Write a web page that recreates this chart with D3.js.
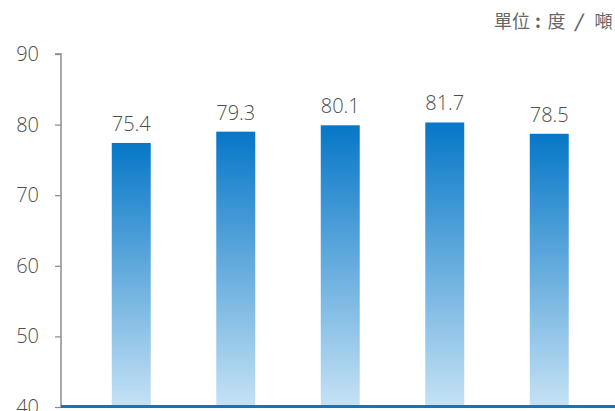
<!DOCTYPE html>
<html>
<head>
<meta charset="utf-8">
<script src="https://cdn.jsdelivr.net/npm/d3@7"></script>
<style>
    body { margin: 0; background: #fff; }
    svg { display: block; font-family: "Open Sans", "Noto Sans", sans-serif; }
</style>
</head>
<body>
<div class="svgContainer"></div>
<script>
// Statics
var CATEGORIES = ["A", "B", "C", "D", "E"];
// Bar heights as drawn in the picture
var BAR_VALUES = [77.4, 79.0, 79.9, 80.3, 78.7];
// Value labels printed above the bars
var LABELS = ["75.4", "79.3", "80.1", "81.7", "78.5"];
var Y_TICKS = [40, 50, 60, 70, 80, 90];
var UNIT_PARTS = ["單位", ":", "度", "/", "噸"];
// End statics

var width = 615, height = 411;

var svg = d3.select(".svgContainer").append("svg")
    .attr("width", width)
    .attr("height", height);

var scaleY = d3.scaleLinear()
    .domain([40, 90])
    .range([407, 54]);

var scaleX = d3.scaleBand()
    .domain(CATEGORIES)
    .range([79, 601.5])
    .paddingInner(0.627)
    .paddingOuter(0.3135);

// Gradient for the bars
var grad = svg.append("defs").append("linearGradient")
    .attr("id", "barGrad")
    .attr("x1", 0).attr("y1", 0)
    .attr("x2", 0).attr("y2", 1);
grad.append("stop").attr("offset", "0%").attr("stop-color", "#0677c7");
grad.append("stop").attr("offset", "100%").attr("stop-color", "#c6e2f5");

// Y axis
var axisY = d3.axisLeft(scaleY)
    .tickValues(Y_TICKS)
    .tickSize(6)
    .tickPadding(16);

var gY = svg.append("g")
    .attr("transform", "translate(61,0)")
    .call(axisY);
gY.select(".domain")
    .attr("stroke", "#aaa")
    .attr("stroke-width", 2)
    .attr("d", "M-6," + scaleY(90) + "H0V" + scaleY(40));
gY.selectAll(".tick line").attr("stroke", "#888").attr("stroke-width", 1.2);
gY.selectAll(".tick text")
    .attr("fill", "#4d4d4d")
    .style("font-family", "'Open Sans', sans-serif")
    .style("font-weight", 300)
    .style("font-size", "20px");

// Bars
svg.selectAll("rect.bar")
    .data(BAR_VALUES)
    .enter().append("rect")
    .attr("class", "bar")
    .attr("x", function(d, i) { return scaleX(CATEGORIES[i]); })
    .attr("y", function(d) { return scaleY(d); })
    .attr("width", scaleX.bandwidth())
    .attr("height", function(d) { return scaleY(40) - scaleY(d); })
    .attr("fill", "url(#barGrad)");

// Value labels
svg.selectAll("text.val")
    .data(BAR_VALUES)
    .enter().append("text")
    .attr("class", "val")
    .attr("x", function(d, i) { return scaleX(CATEGORIES[i]) + scaleX.bandwidth() / 2; })
    .attr("y", function(d) { return scaleY(d) - 12; })
    .attr("text-anchor", "middle")
    .attr("fill", "#4d4d4d")
    .style("font-weight", 300)
    .style("font-size", "20px")
    .text(function(d, i) { return LABELS[i]; });

// Baseline
svg.append("line")
    .attr("x1", 61).attr("x2", width)
    .attr("y1", scaleY(40) - 0.5).attr("y2", scaleY(40) - 0.5)
    .attr("stroke", "#0a77c6")
    .attr("stroke-width", 3);

// Unit, each piece centred where it sits in the original
var unitX = [512, 538, 556.5, 578, 603.5];
svg.append("g").selectAll("text")
    .data(UNIT_PARTS)
    .enter().append("text")
    .attr("x", function(d, i) { return unitX[i]; })
    .attr("y", 28)
    .attr("text-anchor", "middle")
    .attr("fill", "#666")
    .style("font-size", "18px")
    .style("font-family", "'Noto Sans CJK TC', 'Noto Sans', sans-serif")
    .style("font-weight", function(d) { return (d === ":" || d === "/") ? "bold" : "normal"; })
    .style("font-style", function(d) { return d === "/" ? "italic" : "normal"; })
    .text(function(d) { return d; });
</script>
</body>
</html>
